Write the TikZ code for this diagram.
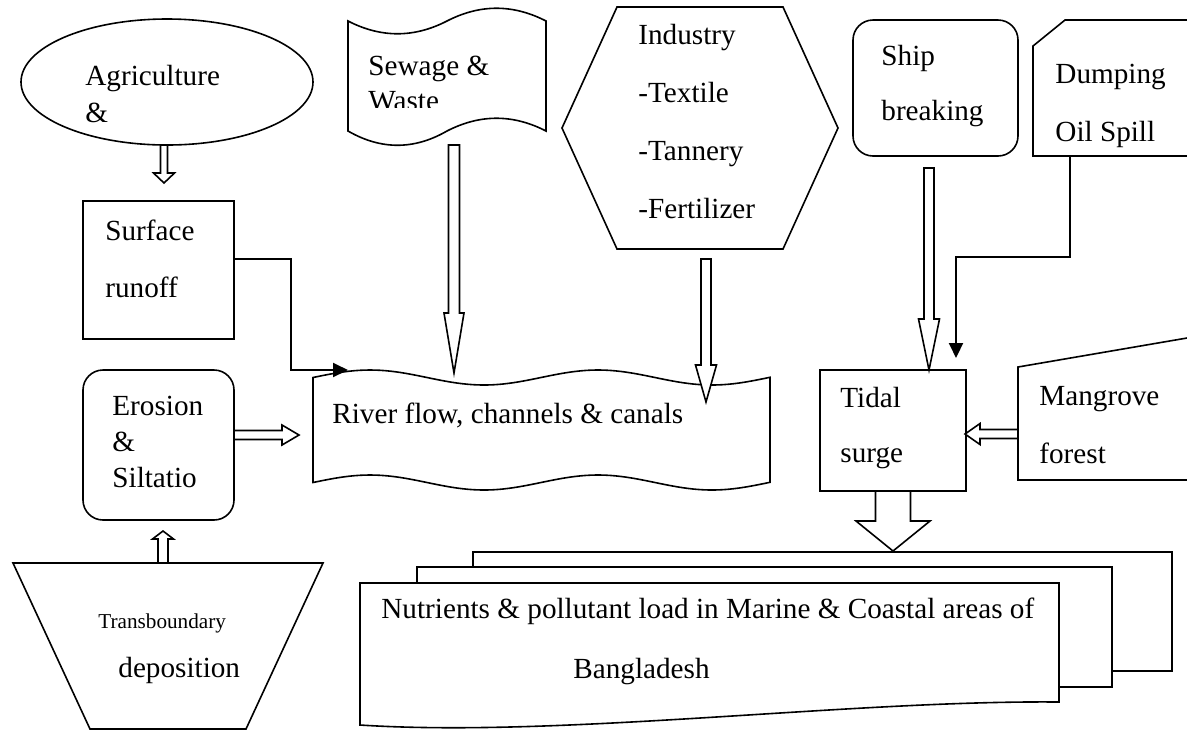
\documentclass[tikz,border=0pt]{standalone}
\usepackage{fontspec}
\setmainfont{Liberation Serif}
\usetikzlibrary{calc,arrows.meta}
\newcommand\blockarrow[5]{%
	\coordinate (ba) at ($(#2)!#5!(#1)$);
	\draw[hollow] ($(#1)!#3!90:(#2)$) -- ($(ba)!#3!90:(#2)$) -- ($(ba)!#4!90:(#2)$) -- (#2)
		-- ($(ba)!#4!-90:(#2)$) -- ($(ba)!#3!-90:(#2)$) -- ($(#1)!#3!-90:(#2)$) -- cycle;}
\tikzset{
	box/.style={draw, line width=0.8pt, fill=white},
	hollow/.style={draw, line width=0.8pt, fill=white},
	link/.style={line width=1pt, -{Triangle[length=7.5pt,width=7pt]}},
	lbl/.style={anchor=base west, align=left, inner sep=0pt},
}
\begin{document}
\begin{tikzpicture}[x=0.5pt,y=-0.5pt]
	\useasboundingbox (0,0) rectangle (1187,730);
	\path (164,145) coordinate (agriS) (164,183) coordinate (surfT)
	(454,145) coordinate (sewS) (454,373) coordinate (rivT1)
	(706,259) coordinate (indS) (706,402) coordinate (rivT2)
	(929,168) coordinate (shipS) (929,370) coordinate (tidalT)
	(234,435) coordinate (eroE) (299,435) coordinate (rivW)
	(163,563) coordinate (transN) (163,531) coordinate (eroS)
	(1018,434) coordinate (mangW) (965,434) coordinate (tidalE)
	(893,491) coordinate (tidalS) (893,551) coordinate (nutriN)
	(234,259) coordinate (surfE) (291,370) coordinate (surfJ) (348,370) coordinate (rivIn)
	(1070,156) coordinate (dumpS) (956,257) coordinate (dumpJ) (956,358) coordinate (tidalIn);
	% shapes
	\draw[box] (167,82) ellipse [x radius=146, y radius=63];
	\draw[box] (348,21) .. controls (381,38) and (414,38) .. (447,21) .. controls (480,4) and (513,4) .. (546,21)
		-- (546,131) .. controls (513,114) and (480,114) .. (447,131) .. controls (414,150) and (381,150) .. (348,131) -- cycle;
	\draw[box] (562,128) -- (617,7) -- (783,7) -- (838,128) -- (783,249) -- (617,249) -- cycle;
	\draw[box, rounded corners=10pt] (853,20) rectangle (1018,156);
	\draw[box] (1187,20) -- (1065,20) -- (1033,46) -- (1033,156) -- (1187,156);
	\draw[box] (83,201) rectangle (234,339);
	\draw[box, rounded corners=10pt] (83,370) rectangle (234,520);
	\draw[box] (13,563) -- (323,563) -- (246,729) -- (90,729) -- cycle;
	\draw[box] plot[domain=313:770, samples=90] (\x,{377.5-7.5*sin(1.579*(\x-313))})
		-- plot[domain=770:313, samples=90] (\x,{482.5-7.5*sin(1.579*(\x-313))}) -- cycle;
	\draw[box] (820,370) rectangle (966,491);
	\draw[box] (1187,338) -- (1018,367) -- (1018,480) -- (1187,480);
	\draw[box] (473,552) rectangle (1172,671);
	\draw[box] (417,567) rectangle (1112,687);
	\draw[box] (360,583) -- (1059,583) -- (1059,702) .. controls (850,700) and (560,738) .. (360,725) -- cycle;
	% arrows
	\blockarrow{agriS}{surfT}{1.75pt}{5.25pt}{5pt}
	\blockarrow{sewS}{rivT1}{2.75pt}{5pt}{30pt}
	\blockarrow{indS}{rivT2}{2.5pt}{5.25pt}{18.5pt}
	\blockarrow{shipS}{tidalT}{2.5pt}{5.25pt}{25.5pt}
	\blockarrow{eroE}{rivW}{2.25pt}{5pt}{8.5pt}
	\blockarrow{transN}{eroS}{2.5pt}{5.25pt}{4pt}
	\blockarrow{mangW}{tidalE}{2.25pt}{5.25pt}{7.5pt}
	\blockarrow{tidalS}{nutriN}{8.75pt}{18.5pt}{15pt}
	\draw[link] (surfE) -| (surfJ) -- (rivIn);
	\draw[link] (dumpS) |- (dumpJ) -- (tidalIn);
	% texts (base = last line)
	\node[lbl, font=\fontsize{14.6}{18.5}\selectfont] (agri) at (85,122) {Agriculture\\\&};
	\begin{scope}
		\clip (340,0) rectangle (560,107);
		\node[lbl, font=\fontsize{14.6}{17.5}\selectfont] (sewage) at (368,110) {Sewage \&\\Waste};
	\end{scope}
	\node[lbl, font=\fontsize{14.6}{29}\selectfont] (industry) at (638,218) {Industry\\-Textile\\-Tannery\\-Fertilizer};
	\node[lbl, font=\fontsize{14.6}{27.5}\selectfont] (ship) at (881,120) {Ship\\breaking};
	\node[lbl, font=\fontsize{14.6}{29}\selectfont] (dump) at (1055,141) {Dumping\\Oil Spill};
	\node[lbl, font=\fontsize{14.6}{28.5}\selectfont] (surf) at (105,297) {Surface\\runoff};
	\node[lbl, font=\fontsize{14.6}{18}\selectfont] (erosion) at (112,487) {Erosion\\\&\\Siltatio};
	\node[lbl, font=\fontsize{10.6}{13}\selectfont] (trans) at (98,628) {Transboundary};
	\node[lbl, font=\fontsize{14.6}{18}\selectfont] (depo) at (118,677) {deposition};
	\node[lbl, font=\fontsize{14.6}{18}\selectfont] (river) at (332,423) {River flow, channels \& canals};
	\node[lbl, font=\fontsize{14.6}{27.5}\selectfont] (tidal) at (840,462) {Tidal\\surge};
	\node[lbl, font=\fontsize{14.6}{29}\selectfont] (mangrove) at (1039,463) {Mangrove\\forest};
	\node[lbl, font=\fontsize{14.6}{30}\selectfont] (nutri) at (381,678) {Nutrients \& pollutant load in Marine \& Coastal areas of\\\hspace{96pt}Bangladesh};
\end{tikzpicture}
\end{document}
